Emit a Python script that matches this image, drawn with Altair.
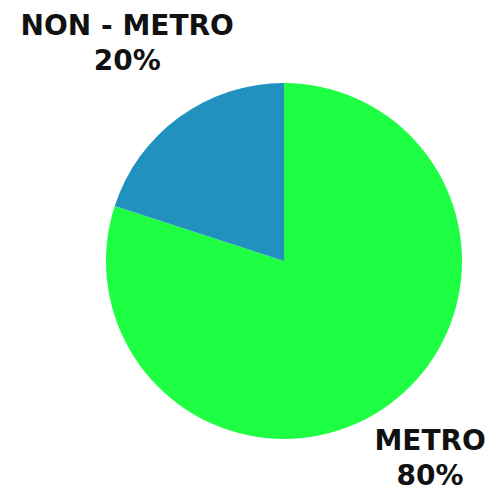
import altair as alt
import pandas as pd

categories = ["METRO", "NON - METRO"]
values = [80, 20]
labels = ["METRO\n80%", "NON - METRO\n20%"]
colors = ["#1EFF44", "#2191BF"]

df = pd.DataFrame({"cat": categories, "value": values, "label": labels, "ord": [0, 1]})

CX, CY = 276, 253

pie = alt.Chart(df).mark_arc(radius=178, stroke=None).encode(
    theta=alt.Theta("value:Q", stack=True),
    order=alt.Order("ord:Q"),
    color=alt.Color("cat:N", scale=alt.Scale(domain=categories, range=colors), legend=None),
    x=alt.value(CX), y=alt.value(CY),
)

stacked = alt.Chart(df).transform_window(
    cum="sum(value)", sort=[alt.SortField("ord")], frame=[None, 0]
).transform_calculate(
    mid="(datum.cum - datum.value/2) / 100 * 2 * PI"
)

def lab(cat, r, dx, dy):
    return stacked.transform_filter(alt.datum.cat == cat).mark_text(
        radius=r, dx=dx, dy=dy, font="DejaVu Sans", fontWeight="bold", fontSize=28,
        lineHeight=35, lineBreak="\n", align="center", baseline="middle", color="#111111",
    ).encode(
        theta=alt.Theta("mid:Q", scale=None),
        text="label:N", x=alt.value(CX), y=alt.value(CY),
    )

chart = alt.layer(pie, lab("NON - METRO", 282, 9, -6), lab("METRO", 235, 8, -9)).properties(
    width=484, height=482, autosize=alt.AutoSizeParams(type="none"), padding=0,
).configure_view(stroke=None)

chart.save("out.html", embed_options={"renderer": "svg", "actions": False})
